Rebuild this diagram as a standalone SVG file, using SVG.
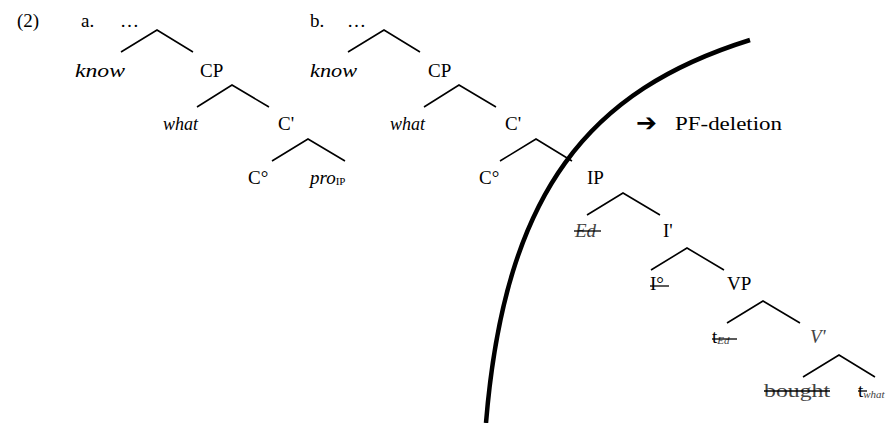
<svg xmlns="http://www.w3.org/2000/svg" width="896" height="423" viewBox="0 0 896 423" font-family="'Liberation Serif', 'Times New Roman', serif">
<style>
text{font-family:'Liberation Serif','Times New Roman',serif;font-size:19px;fill:#000}
.i{font-style:italic}
.g{fill:#444}
.sub{font-size:11px}
.br{stroke:#000;stroke-width:1.6;fill:none}
.st{stroke:#000;stroke-width:1.3}
</style>
<rect width="896" height="423" fill="#fff"/>
<g id="labels">
<text x="17" y="27">(2)</text>
<text x="81" y="27">a.</text>
<text x="120" y="27">…</text>
<text x="310" y="27">b.</text>
<text x="347" y="27">…</text>
</g>
<g id="connectors">
<path class="br" d="M121,52 L157,30 L193,52"/>
<path class="br" d="M197,107 L232,85 L269,107"/>
<path class="br" d="M272,161 L308,139 L345,161"/>
<path class="br" d="M348,52 L384,30 L420,52"/>
<path class="br" d="M424,107 L459,85 L496,107"/>
<path class="br" d="M500,161 L536,139 L572,161"/>
<path class="br" d="M587,215 L623,193 L660,215"/>
<path class="br" d="M651,270 L687,248 L724,270"/>
<path class="br" d="M727,323 L763,301 L800,323"/>
<path class="br" d="M803,377 L839,355 L875,377"/>
</g>
<g id="tree-a">
<g id="a-know"><text class="i" x="75" y="77" textLength="50" lengthAdjust="spacingAndGlyphs">know</text></g>
<g id="a-CP"><text x="200" y="77">CP</text></g>
<g id="a-what"><text class="i" x="163" y="130" textLength="35" lengthAdjust="spacingAndGlyphs">what</text></g>
<g id="a-Cbar"><text x="278" y="130">C'</text></g>
<g id="a-C0"><text x="248" y="184">C°</text></g>
<g id="a-pro"><text class="i" x="310" y="184">pro<tspan class="sub" font-style="normal" dy="1">IP</tspan></text></g>
</g>
<g id="tree-b">
<g id="b-know"><text class="i" x="310" y="77" textLength="47" lengthAdjust="spacingAndGlyphs">know</text></g>
<g id="b-CP"><text x="428" y="77">CP</text></g>
<g id="b-what"><text class="i" x="390" y="130" textLength="35" lengthAdjust="spacingAndGlyphs">what</text></g>
<g id="b-Cbar"><text x="505" y="130">C'</text></g>
<g id="b-C0"><text x="479" y="184">C°</text></g>
<g id="b-IP"><text x="587" y="184">IP</text></g>
<g id="b-Ed"><text class="i g" x="575" y="237">Ed</text><line class="st" x1="574" y1="231" x2="601" y2="231"/></g>
<g id="b-Ibar"><text x="663" y="237">I'</text></g>
<g id="b-I0"><text x="650" y="290">I°</text><line class="st" x1="650" y1="286" x2="669" y2="286"/></g>
<g id="b-VP"><text x="727" y="290">VP</text></g>
<g id="b-tEd"><text x="712" y="343">t<tspan class="i sub g" dy="1" font-size="12px">Ed</tspan></text><line class="st" x1="712" y1="339" x2="737" y2="339"/></g>
<g id="b-Vbar"><text class="i g" x="810" y="343">V'</text></g>
<g id="b-bought"><text class="g" x="764" y="397" textLength="66" lengthAdjust="spacingAndGlyphs">bought</text><line class="st" x1="764" y1="391" x2="830" y2="391"/></g>
<g id="b-twhat"><text x="858" y="397">t<tspan class="i sub g" dy="1" font-size="12px">what</tspan></text><line class="st" x1="858" y1="391" x2="867" y2="391"/></g>
</g>
<g id="pf-boundary">
<path d="M750,40 C590,90 505,190 486,423" fill="none" stroke="#000" stroke-width="4.5"/>
</g>
<g id="pf-deletion">
<text x="636" y="131" style="font-family:'DejaVu Sans',sans-serif;font-size:25px;font-weight:bold">➔</text>
<text x="675" y="130" textLength="107" lengthAdjust="spacingAndGlyphs">PF-deletion</text>
</g>
</svg>
